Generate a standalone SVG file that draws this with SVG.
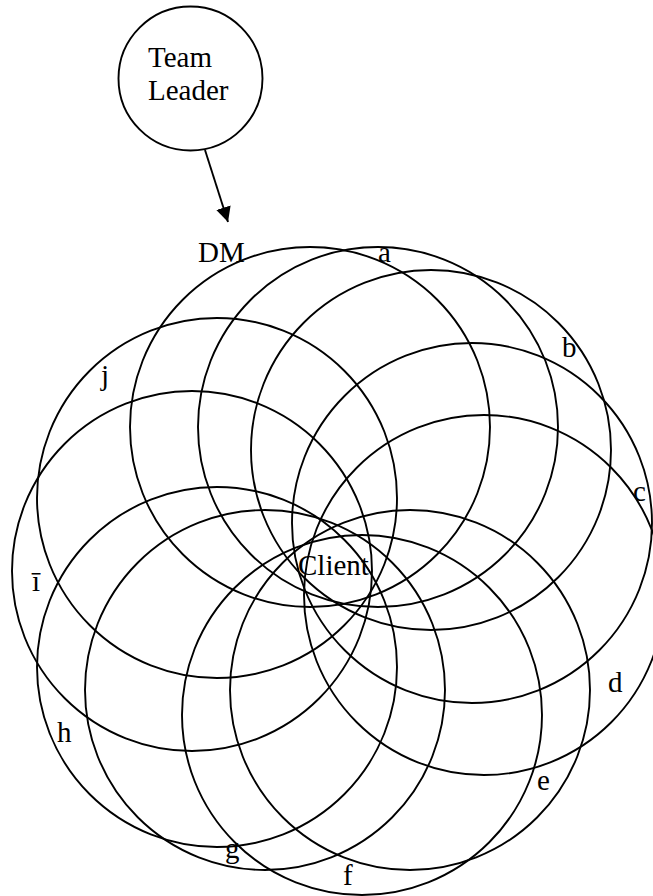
<svg xmlns="http://www.w3.org/2000/svg" width="653" height="896" viewBox="0 0 653 896">
<style>
.n{fill:none;stroke:#000;stroke-width:1.9}
.t{font-family:"Liberation Serif","Times New Roman",serif;font-size:29px;fill:#000}
.c{fill:none;stroke:#000;stroke-width:1.9}
</style>
<defs>
<marker id="ah" viewBox="0 0 10 10" refX="10" refY="5" markerWidth="15" markerHeight="15" markerUnits="userSpaceOnUse" orient="auto">
<path d="M0,0 L10,5 L0,10 z" fill="#000"/>
</marker>
</defs>
<g id="team-leader">
<circle class="n" cx="190.5" cy="78.5" r="72"/>
<text class="t" x="148" y="67">Team</text>
<text class="t" x="148" y="100">Leader</text>
</g>
<g id="connectors">
<line class="c" x1="205" y1="150" x2="228" y2="222" marker-end="url(#ah)"/>
</g>
<g id="node-dm"><circle class="n" cx="310" cy="427" r="180"/><text class="t" x="198" y="262">DM</text></g>
<g id="node-a"><circle class="n" cx="378" cy="427" r="180"/><text class="t" x="378" y="262">a</text></g>
<g id="node-b"><circle class="n" cx="431" cy="450" r="180"/><text class="t" x="562" y="357">b</text></g>
<g id="node-c"><circle class="n" cx="472" cy="523" r="180"/><text class="t" x="633" y="501">c</text></g>
<g id="node-d"><circle class="n" cx="484" cy="595" r="180"/><text class="t" x="608" y="692">d</text></g>
<g id="node-e"><circle class="n" cx="410" cy="690" r="180"/><text class="t" x="537" y="790">e</text></g>
<g id="node-f"><circle class="n" cx="362" cy="715" r="180"/><text class="t" x="343" y="885">f</text></g>
<g id="node-g"><circle class="n" cx="265" cy="690" r="180"/><text class="t" x="225" y="858">g</text></g>
<g id="node-h"><circle class="n" cx="217" cy="667" r="180"/><text class="t" x="57" y="742">h</text></g>
<g id="node-i"><circle class="n" cx="192" cy="571" r="180"/><text class="t" x="32" y="591">ī</text></g>
<g id="node-j"><circle class="n" cx="217" cy="498" r="180"/><text class="t" x="101" y="385">j</text></g>
<g id="node-client"><text class="t" x="298" y="575" font-size="31px">Client</text></g>
</svg>
